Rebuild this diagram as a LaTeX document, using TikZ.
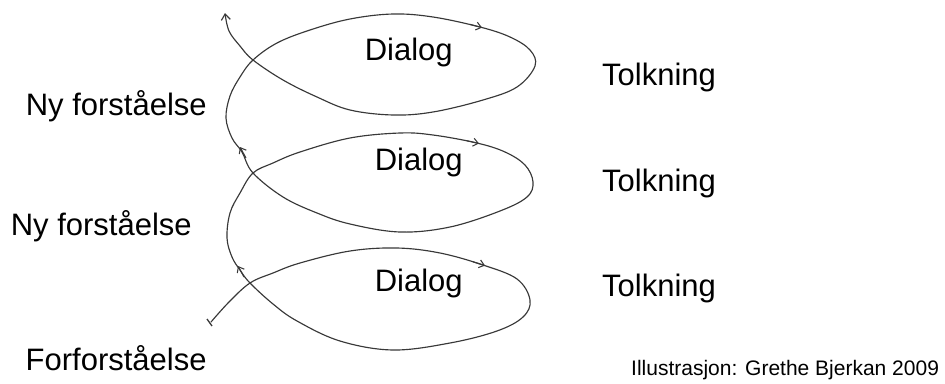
\documentclass[tikz,border=0pt]{standalone}
\usepackage{fontspec}
\setmainfont{Liberation Sans}
\usetikzlibrary{arrows.meta}
\begin{document}
\begin{tikzpicture}[x=1pt,y=-1pt,
  spiral/.style={draw=black!78, line width=1.15pt, line cap=round, line join=round},
  headmark/.style={draw=black!78, line width=1.05pt, -{Straight Barb[length=5pt,width=8pt]}},
  lbl/.style={font=\fontsize{31}{36}\selectfont, anchor=base west, inner sep=0pt},
  credit/.style={font=\fontsize{21}{25}\selectfont, anchor=base west, inner sep=0pt}]
\useasboundingbox (0,0) rectangle (945,383);

% the spiral: three loops climbing upwards
\draw[spiral, -{Straight Barb[length=6pt,width=9pt]}] plot[smooth, tension=0.6] coordinates {
  (211,322) (229,302) (250,283) (273,273) (300,263) (350,251) (397,248)
  (440,253) (483,265) (517,279) (530,300) (523,317) (497,331) (450,343) (393,350)
  (340,341) (297,321) (273,304) (250,283) (240,270) (232,257) (227,238) (230,213)
  (240,193) (253,173) (273,163) (300,152) (350,138) (400,133) (433,135) (477,143)
  (505,152) (525,165) (533,182) (527,197) (500,211) (450,227) (400,232) (350,224)
  (317,213) (283,197) (253,173) (242,152) (232,138) (226,118) (230,96) (240,77)
  (253,60) (277,43) (310,30) (350,19) (393,14) (433,17) (480,27) (510,37)
  (530,50) (535,66) (517,87) (483,100) (433,112) (393,115) (350,110) (317,97)
  (283,80) (253,60) (240,46) (229,31) (225,13)};

% start mark
\draw[black!78, line width=1.3pt] (207,319) -- (212,326);

% direction marks on the loops
\draw[headmark] (470,24.4) -- (482,27.6);
\draw[headmark] (467,140.8) -- (479,143.5);
\draw[headmark] (473,261.8) -- (485,265.6);
\draw[headmark] (246,158) -- (240,147);
\draw[headmark] (244,277) -- (238,266);

% labels
\node[lbl] (ny1)  at (25.6,115) {Ny forståelse};
\node[lbl] (ny2)  at (10.6,235) {Ny forståelse};
\node[lbl] (forf) at (25.5,370) {Forforståelse};
\node[lbl] (d1) at (364.6,60)  {Dialog};
\node[lbl] (d2) at (374.6,170) {Dialog};
\node[lbl] (d3) at (374.6,291) {Dialog};
\node[lbl] (t1) at (602,85)  {Tolkning};
\node[lbl] (t2) at (602,191) {Tolkning};
\node[lbl] (t3) at (602,296) {Tolkning};
\node[credit] (cr) at (631,375) {Illustrasjon: Grethe Bjerkan 2009};
\end{tikzpicture}
\end{document}
